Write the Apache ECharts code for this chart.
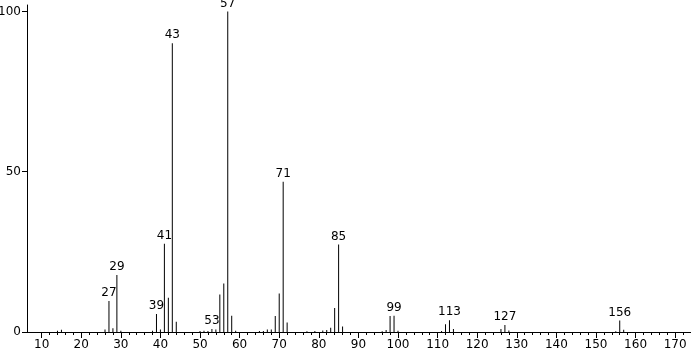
<!DOCTYPE html>
<html>
<head>
<meta charset="utf-8">
<script src="https://cdn.jsdelivr.net/npm/echarts@6/dist/echarts.min.js"></script>
<style>
html,body{margin:0;padding:0;background:#fff;}
#chart{width:691px;height:351px;}
</style>
</head>
<body>
<div id="chart"></div>
<script>
// m/z values and relative intensities (%)
const mzValues = [14, 15, 26, 27, 28, 29, 30, 38, 39, 40, 41, 42, 43, 44,
  50, 51, 52, 53, 54, 55, 56, 57, 58, 59,
  65, 66, 67, 68, 69, 70, 71, 72,
  77, 79, 81, 82, 83, 84, 85, 86,
  96, 97, 98, 99, 100,
  111, 112, 113, 114,
  126, 127, 128,
  155, 156, 157];
const intensities = [0.4, 0.7, 0.8, 9.7, 1.2, 17.8, 0.4, 0.4, 5.6, 0.8, 27.5, 10.7, 90.1, 3.2,
  0.3, 0.4, 0.3, 0.9, 0.8, 11.7, 15.1, 100, 5.1, 0.4,
  0.3, 0.3, 0.8, 0.8, 5.0, 12.0, 46.9, 3.0,
  0.2, 0.3, 0.5, 0.6, 1.3, 7.5, 27.3, 1.7,
  0.2, 0.6, 5.0, 5.1, 0.4,
  0.3, 2.4, 3.7, 0.9,
  0.9, 2.2, 0.5,
  0.2, 3.6, 0.7];
const labeledPeaks = [27, 29, 39, 41, 43, 53, 57, 71, 85, 99, 113, 127, 156];
const xTickLabels = [10, 20, 30, 40, 50, 60, 70, 80, 90, 100, 110, 120, 130, 140, 150, 160, 170];
const xMinorTicks = [];
for (let v = 12; v <= 172; v += 2) { if (v % 10 !== 0) xMinorTicks.push(v); }
const yTickLabels = [0, 50, 100];

const FONT = 'DejaVu Sans';
const X_MIN = 6.3, X_MAX = 174, Y_MAX = 102;

const seriesData = mzValues.map((m, i) => ({
  value: [m, intensities[i]],
  label: { show: labeledPeaks.indexOf(m) >= 0 }
}));

const chart = echarts.init(document.getElementById('chart'), null, { renderer: 'canvas' });
chart.setOption({
  animation: false,
  backgroundColor: '#ffffff',
  grid: { left: 27, right: 0, top: 5, bottom: 19, containLabel: false, outerBoundsMode: 'none' },
  xAxis: [{
    type: 'value', min: X_MIN, max: X_MAX,
    axisLine: { show: true, lineStyle: { color: '#000', width: 1 } },
    axisTick: { show: true, length: 6, customValues: xTickLabels, lineStyle: { color: '#000' } },
    axisLabel: { show: true, customValues: xTickLabels, color: '#000', fontFamily: FONT, fontSize: 12, margin: 7 },
    splitLine: { show: false }
  }, {
    type: 'value', min: X_MIN, max: X_MAX, position: 'bottom',
    axisLine: { show: false },
    axisTick: { show: true, length: 3, customValues: xMinorTicks, lineStyle: { color: '#000' } },
    axisLabel: { show: false },
    splitLine: { show: false }
  }],
  yAxis: {
    type: 'value', min: 0, max: Y_MAX,
    axisLine: { show: true, lineStyle: { color: '#000', width: 1 } },
    axisTick: { show: true, length: 5, customValues: yTickLabels, lineStyle: { color: '#000' } },
    axisLabel: { show: true, customValues: yTickLabels, color: '#000', fontFamily: FONT, fontSize: 12, margin: 6 },
    splitLine: { show: false }
  },
  series: [{
    type: 'bar',
    xAxisIndex: 0,
    barWidth: 1,
    itemStyle: { color: '#000' },
    label: {
      position: 'top', distance: 2, color: '#000', fontFamily: FONT, fontSize: 12,
      formatter: p => String(p.value[0])
    },
    data: seriesData
  }]
});
</script>
</body>
</html>
